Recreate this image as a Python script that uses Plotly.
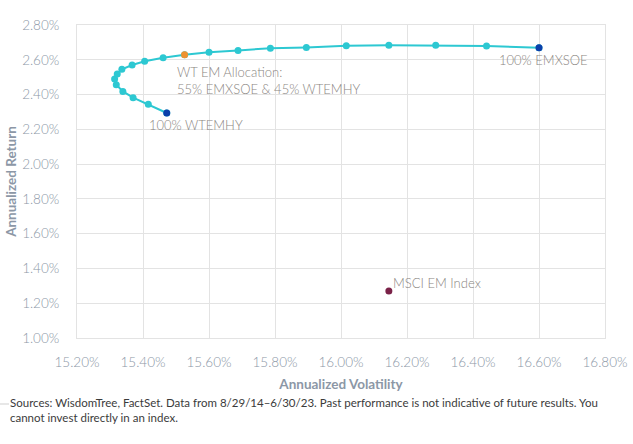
import plotly.graph_objects as go

# EMXSOE weight (%) along the curve (rest is WTEMHY)
emxsoe_weight = [0, 5, 10, 15, 20, 25, 30, 35, 40, 45, 50, 55, 60, 65, 70, 75, 80, 85, 90, 95, 100]
volatility = [15.472, 15.416, 15.370, 15.339, 15.319, 15.314, 15.322, 15.336, 15.367, 15.405,
              15.461, 15.526, 15.600, 15.688, 15.786, 15.895, 16.016, 16.145, 16.287, 16.441, 16.600]
ret = [2.294, 2.344, 2.382, 2.418, 2.456, 2.489, 2.518, 2.545, 2.570, 2.591,
       2.611, 2.629, 2.643, 2.654, 2.667, 2.671, 2.680, 2.683, 2.683, 2.679, 2.669]

msci_vol = [16.145]
msci_ret = [1.271]

x_ticks = [15.2, 15.4, 15.6, 15.8, 16.0, 16.2, 16.4, 16.6, 16.8]
x_tick_labels = ["15.20%", "15.40%", "15.60%", "15.80%", "16.00%", "16.20%", "16.40%", "16.60%", "16.80%"]
y_ticks = [1.0, 1.2, 1.4, 1.6, 1.8, 2.0, 2.2, 2.4, 2.6, 2.8]
y_tick_labels = ["1.00%", "1.20%", "1.40%", "1.60%", "1.80%", "2.00%", "2.20%", "2.40%", "2.60%", "2.80%"]

TEAL = "#2DC8D2"
NAVY = "#0B3FAA"
ORANGE = "#EE9230"
MAROON = "#7A2248"
LABEL = "#8a8682"
AXIS = "#8c97a6"
GRID = "#e3e3e3"

fig = go.Figure()
fig.add_trace(go.Scatter(x=volatility, y=ret, mode="lines+markers",
                         line=dict(color=TEAL, width=2),
                         marker=dict(color=TEAL, size=7), showlegend=False))
i55 = emxsoe_weight.index(55)
fig.add_trace(go.Scatter(x=[volatility[0], volatility[-1]], y=[ret[0], ret[-1]], mode="markers",
                         marker=dict(color=NAVY, size=7), showlegend=False))
fig.add_trace(go.Scatter(x=[volatility[i55]], y=[ret[i55]], mode="markers",
                         marker=dict(color=ORANGE, size=7), showlegend=False))
fig.add_trace(go.Scatter(x=msci_vol, y=msci_ret, mode="markers",
                         marker=dict(color=MAROON, size=7), showlegend=False))

lab_font = dict(family="Lato", size=13, color=LABEL, weight=300)
fig.add_annotation(x=volatility[-1], y=ret[-1], text="100% EMXSOE", showarrow=False,
                   xanchor="center", yanchor="middle", xshift=4, yshift=-12, font=lab_font)
fig.add_annotation(x=volatility[0], y=ret[0], text="100% WTEMHY", showarrow=False,
                   xanchor="center", yanchor="middle", xshift=29, yshift=-12, font=lab_font)
fig.add_annotation(x=volatility[i55], y=ret[i55],
                   text="WT EM Allocation:<br>55% EMXSOE & 45% WTEMHY", showarrow=False,
                   xanchor="left", yanchor="top", align="left", xshift=-10, yshift=-7, font=lab_font)
fig.add_annotation(x=msci_vol[0], y=msci_ret[0], text="MSCI EM Index", showarrow=False,
                   xanchor="left", yanchor="middle", xshift=2, yshift=8, font=lab_font)

# footer
fig.add_annotation(xref="paper", yref="paper", x=(8 - 77) / 528, y=(338 - 394) / 313,
                   xanchor="left", yanchor="top", align="left", showarrow=False,
                   text="Sources: WisdomTree, FactSet. Data from 8/29/14–6/30/23. Past performance is not indicative of future results. You<br>cannot invest directly in an index.",
                   font=dict(family="Lato", size=11.5, color="#3b3b3b"))
fig.add_shape(type="line", xref="paper", yref="paper",
              x0=-77 / 528, x1=(9 - 77) / 528, y0=(338 - 404) / 313, y1=(338 - 404) / 313,
              line=dict(color="#cfcfcf", width=1))

axis_common = dict(showgrid=True, gridcolor=GRID, gridwidth=1, zeroline=False,
                   showline=True, linecolor=GRID, linewidth=1, mirror=True, automargin=False,
                   ticks="", tickfont=dict(family="Lato", size=13.5, color=AXIS, weight=300))
fig.update_xaxes(range=[15.2, 16.8], tickvals=x_ticks, ticktext=x_tick_labels,
                 ticklabelstandoff=12, **axis_common,
                 title=dict(text="<b>Annualized Volatility</b>", standoff=10,
                            font=dict(family="Lato", size=13.5, color=AXIS)))
fig.update_yaxes(range=[1.0, 2.8], tickvals=y_ticks, ticktext=y_tick_labels,
                 ticklabelstandoff=14, **axis_common,
                 title=dict(text="<b>Annualized Return</b>", standoff=2,
                            font=dict(family="Lato", size=13.5, color=AXIS)))

fig.update_layout(width=633, height=444, margin=dict(l=77, r=28, t=25, b=106),
                  paper_bgcolor="white", plot_bgcolor="white")
fig.write_html("out.html")
